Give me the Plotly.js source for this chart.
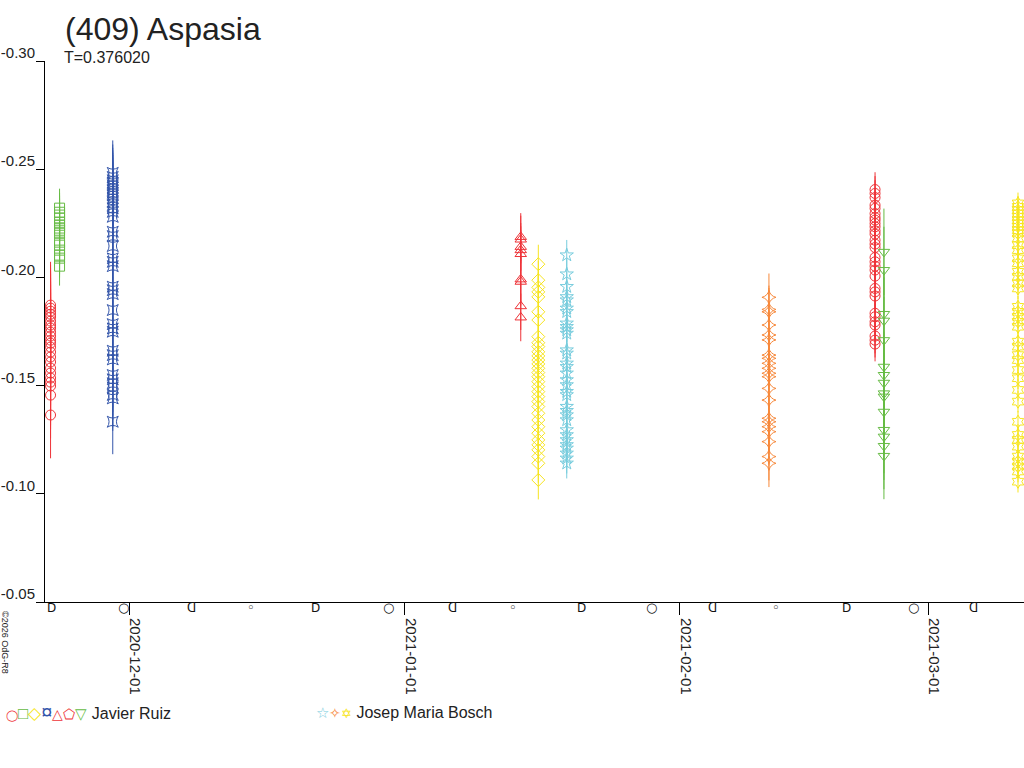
<!DOCTYPE html>
<html>
<head>
<meta charset="utf-8">
<script src="https://cdn.plot.ly/plotly-3.0.1.min.js"></script>
<style>
  html, body { margin: 0; padding: 0; background: #fff; }
  #plot { width: 1024px; height: 768px; }
</style>
</head>
<body>
<div id="plot"></div>
<script>
// lightcurve of (409) Aspasia, one entry per observing night

let nightDates = [
  '2020-11-22 03:00', '2020-11-23 03:20', '2020-11-29 03:10',
  '2021-01-14 02:10', '2021-01-16 01:40', '2021-01-19 06:30',
  '2021-02-11 01:10', '2021-02-23 00:00', '2021-02-24 00:00',
  '2021-03-11 02:25'
];
let nightObservers = [
  'Javier Ruiz', 'Javier Ruiz', 'Javier Ruiz', 'Javier Ruiz', 'Javier Ruiz',
  'Josep Maria Bosch', 'Josep Maria Bosch', 'Javier Ruiz', 'Javier Ruiz',
  'Josep Maria Bosch'
];
let nightSymbols = [
  'circle-open', 'square-open', 'star-square-open', 'triangle-up-open', 'diamond-open',
  'star-open', 'star-diamond-open', 'circle-open', 'triangle-down-open', 'hexagram-open'
];
let nightColors = [
  '#ee3338', '#66bb44', '#3355aa', '#ee3338', '#f7e520',
  '#77ccdd', '#f7883a', '#ee3338', '#66bb44', '#f7e520'
];
let nightErrors = [0.02, 0.009, 0.015, 0.011, 0.009, 0.007, 0.011, 0.008, 0.02, 0.005];

let mag1 = [-0.1872, -0.1858, -0.1844, -0.1830, -0.1817, -0.1798, -0.1780, -0.1766, -0.1747,
  -0.1729, -0.1710, -0.1696, -0.1678, -0.1655, -0.1632, -0.1609, -0.1581, -0.1558, -0.1535,
  -0.1516, -0.1498, -0.1456, -0.1364];
let mag2 = [-0.2320, -0.2301, -0.2288, -0.2274, -0.2255, -0.2241, -0.2228, -0.2218, -0.2204,
  -0.2163, -0.2149, -0.2126, -0.2103, -0.2089, -0.2052];
let mag3 = [-0.2483, -0.2464, -0.2449, -0.2437, -0.2426, -0.2415, -0.2403, -0.2391, -0.2380,
  -0.2365, -0.2349, -0.2334, -0.2319, -0.2303, -0.2280, -0.2211, -0.2191, -0.2145, -0.2088,
  -0.2072, -0.2052, -0.1957, -0.1941, -0.1923, -0.1849, -0.1784, -0.1764, -0.1749, -0.1661,
  -0.1641, -0.1621, -0.1549, -0.1529, -0.1511, -0.1492, -0.1457, -0.1441, -0.1333];
let mag4 = [-0.2187, -0.2175, -0.2141, -0.2126, -0.2108, -0.1991, -0.1980, -0.1867, -0.1815];
let mag5 = [-0.2061, -0.1987, -0.1954, -0.1933, -0.1910, -0.1841, -0.1803, -0.1726, -0.1698,
  -0.1680, -0.1656, -0.1637, -0.1618, -0.1600, -0.1580, -0.1560, -0.1541, -0.1518, -0.1495,
  -0.1472, -0.1449, -0.1426, -0.1403, -0.1372, -0.1341, -0.1310, -0.1280, -0.1249, -0.1226,
  -0.1203, -0.1172, -0.1141, -0.1064];
let mag6 = [-0.2103, -0.2015, -0.1957, -0.1910, -0.1895, -0.1857, -0.1841, -0.1788, -0.1772,
  -0.1757, -0.1741, -0.1664, -0.1649, -0.1603, -0.1587, -0.1557, -0.1526, -0.1503, -0.1472,
  -0.1457, -0.1403, -0.1384, -0.1364, -0.1341, -0.1295, -0.1272, -0.1249, -0.1226, -0.1210,
  -0.1187, -0.1164, -0.1141];
let mag7 = [-0.1908, -0.1852, -0.1841, -0.1780, -0.1734, -0.1711, -0.1641, -0.1626, -0.1603,
  -0.1580, -0.1557, -0.1541, -0.1487, -0.1433, -0.1349, -0.1333, -0.1310, -0.1287, -0.1241,
  -0.1172, -0.1141];
let mag8 = [-0.2406, -0.2388, -0.2369, -0.2334, -0.2319, -0.2295, -0.2277, -0.2265, -0.2249,
  -0.2234, -0.2215, -0.2200, -0.2172, -0.2154, -0.2138, -0.2092, -0.2072, -0.2052, -0.2034,
  -0.2006, -0.1949, -0.1933, -0.1914, -0.1834, -0.1818, -0.1795, -0.1780, -0.1729, -0.1710,
  -0.1692];
let mag9 = [-0.2118, -0.2034, -0.1831, -0.1800, -0.1710, -0.1587, -0.1549, -0.1513, -0.1464,
  -0.1449, -0.1379, -0.1295, -0.1264, -0.1221, -0.1175];
let mag10 = [-0.2342, -0.2326, -0.2311, -0.2295, -0.2280, -0.2264, -0.2249, -0.2234, -0.2218,
  -0.2203, -0.2180, -0.2149, -0.2126, -0.2088, -0.2065, -0.2026, -0.2003, -0.1972, -0.1949,
  -0.1864, -0.1841, -0.1818, -0.1795, -0.1772, -0.1703, -0.1680, -0.1641, -0.1618, -0.1572,
  -0.1534, -0.1480, -0.1426, -0.1333, -0.1272, -0.1249, -0.1218, -0.1172, -0.1149, -0.1126,
  -0.1103, -0.1056];
let nightMags = [mag1, mag2, mag3, mag4, mag5, mag6, mag7, mag8, mag9, mag10];

let yTickVals = [-0.30, -0.25, -0.20, -0.15, -0.10, -0.05];
let yTickText = ['-0.30', '-0.25', '-0.20', '-0.15', '-0.10', '-0.05'];
let xTickVals = ['2020-12-01', '2021-01-01', '2021-02-01', '2021-03-01'];

// moon phases along the time axis
let moonDates = [
  '2020-11-22 04:45', '2020-11-30 09:30', '2020-12-08 00:37', '2020-12-14 16:17',
  '2020-12-21 23:41', '2020-12-30 03:28', '2021-01-06 09:37', '2021-01-13 05:00',
  '2021-01-20 21:02', '2021-01-28 19:16', '2021-02-04 17:37', '2021-02-11 19:06',
  '2021-02-19 18:47', '2021-02-27 08:17', '2021-03-06 01:30'
];
let moonPhases = ['fq', 'full', 'lq', 'new', 'fq', 'full', 'lq', 'new',
  'fq', 'full', 'lq', 'new', 'fq', 'full', 'lq'];
let moonGlyph = { fq: 'D', full: '○', lq: 'ᗡ', new: '◦' };
let moonSize = { fq: 12, full: 13, lq: 12, new: 13 };

let legendGroups = [
  { name: 'Javier Ruiz', glyphs: ['◯', '□', '◇', '¤', '△', '⬠', '▽'],
    colors: ['#ee3338', '#66bb44', '#f7e520', '#3355aa', '#ee3338', '#ee3338', '#66bb44'],
    sizes: [11, 17, 17, 20, 14, 14, 15] },
  { name: 'Josep Maria Bosch', glyphs: ['☆', '✧', '✡'],
    colors: ['#77ccdd', '#f7883a', '#f7e520'],
    sizes: [15, 14, 13] }
];

let textColor = '#222222';
let fontFamily = '"Liberation Sans", Arial, sans-serif';

let data = [];
for (let i = 0; i < nightMags.length; i++) {
  data.push({
    x: nightMags[i].map(() => nightDates[i]),
    y: nightMags[i],
    name: nightObservers[i],
    type: 'scatter',
    mode: 'markers',
    showlegend: false,
    marker: {
      symbol: nightSymbols[i],
      size: 10,
      color: nightColors[i],
      line: { width: 1, color: nightColors[i] }
    },
    error_y: {
      type: 'constant',
      value: nightErrors[i],
      color: nightColors[i],
      thickness: 1,
      width: 0
    },
    cliponaxis: true
  });
}

let annotations = [];

// subtitle
annotations.push({
  xref: 'paper', yref: 'paper', x: 0.0174, y: 1.0259,
  xanchor: 'left', yanchor: 'top', showarrow: false,
  text: 'T=0.376020',
  font: { family: fontFamily, size: 16, color: textColor }
});

// copyright
annotations.push({
  xref: 'paper', yref: 'paper', x: -0.0409, y: -0.0758,
  xanchor: 'center', yanchor: 'middle', showarrow: false,
  textangle: 90,
  text: '©2026 OdG-R8',
  font: { family: fontFamily, size: 9, color: textColor }
});

// moon phases
for (let i = 0; i < moonDates.length; i++) {
  annotations.push({
    xref: 'x', yref: 'paper', x: moonDates[i], y: -0.011,
    xanchor: 'center', yanchor: 'middle', showarrow: false,
    text: moonGlyph[moonPhases[i]],
    font: { family: '"DejaVu Sans", sans-serif', size: moonSize[moonPhases[i]], color: '#111' }
  });
}

// observer legend
let legendX = [4, 314];
legendGroups.forEach((group, g) => {
  let glyphs = group.glyphs.map((s, k) =>
    '<span style="color:' + group.colors[k] + ';font-size:' + group.sizes[k] + 'px">' + s + '</span>').join('');
  annotations.push({
    xref: 'paper', yref: 'paper',
    x: (legendX[g] - 45) / 979, y: (602 - 712) / 541,
    xanchor: 'left', yanchor: 'middle', showarrow: false,
    text: glyphs + ' ' + group.name,
    font: { family: fontFamily, size: 16, color: textColor }
  });
});

let layout = {
  width: 1024,
  height: 768,
  margin: { l: 45, r: 0, t: 61, b: 166 },
  paper_bgcolor: '#ffffff',
  plot_bgcolor: '#ffffff',
  showlegend: false,
  title: {
    text: '(409) Aspasia',
    xref: 'container', yref: 'container',
    x: 65 / 1024, xanchor: 'left',
    y: 1 - 18 / 768, yanchor: 'top',
    font: { family: fontFamily, size: 32, color: textColor }
  },
  xaxis: {
    type: 'date',
    range: ['2020-11-21 12:00', '2021-03-11 18:40'],
    tickvals: xTickVals,
    ticktext: xTickVals,
    tickangle: 90,
    ticks: 'outside',
    ticklen: 12,
    tickcolor: '#000',
    tickwidth: 1,
    ticklabelshift: 6,
    showgrid: false,
    zeroline: false,
    showline: true,
    linecolor: '#000',
    linewidth: 1,
    tickfont: { family: fontFamily, size: 15, color: textColor }
  },
  yaxis: {
    range: [-0.05, -0.30],
    tickvals: yTickVals,
    ticktext: yTickText,
    ticks: 'outside',
    ticklen: 8,
    tickcolor: '#000',
    tickwidth: 1,
    ticklabelshift: 8,
    ticklabelstandoff: -2,
    showgrid: false,
    zeroline: false,
    showline: true,
    linecolor: '#000',
    linewidth: 1,
    tickfont: { family: fontFamily, size: 15, color: textColor }
  },
  annotations: annotations
};

Plotly.newPlot('plot', data, layout, { staticPlot: true });
</script>
</body>
</html>
